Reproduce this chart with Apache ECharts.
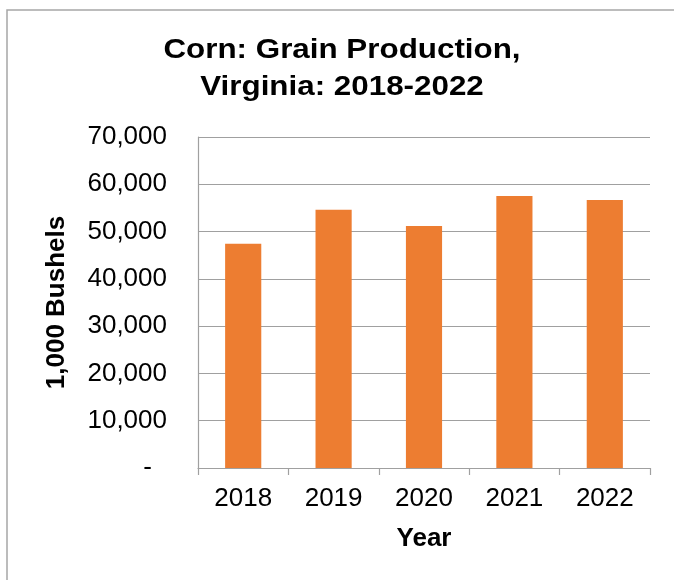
<!DOCTYPE html>
<html>
<head>
<meta charset="utf-8">
<script src="https://cdn.jsdelivr.net/npm/echarts@6/dist/echarts.min.js"></script>
<style>
  html, body { margin: 0; padding: 0; background: #fff; }
  #chart_con { width: 674px; height: 580px; }
</style>
</head>
<body>
<div id="chart_con"></div>
<script>
    // values (1,000 bushels)
    var years = ['2018', '2019', '2020', '2021', '2022'];
    var production = [47400, 54600, 51200, 57500, 56700];
    var yTicks = [0, 10000, 20000, 30000, 40000, 50000, 60000, 70000];
    var titleLines = ['Corn: Grain Production,', 'Virginia: 2018-2022'];

    var font = '"Liberation Sans", Arial, sans-serif';

    function titleLine(text, y) {
        // the title face runs a bit wider than Arial, stretch it
        return {
            type: 'text',
            x: 342,
            y: y,
            scaleX: 1.12,
            style: {
                text: text,
                font: 'bold 28px "Liberation Sans", Arial, sans-serif',
                fill: '#000',
                align: 'center',
                verticalAlign: 'middle'
            }
        };
    }

    var chart = echarts.init(document.getElementById('chart_con'));
    chart.setOption({
        backgroundColor: '#fff',
        animation: false,
        graphic: [
            {
                // frame, only top and left edge show inside the window
                type: 'rect',
                shape: {x: 7, y: 10, width: 720, height: 620},
                style: {fill: 'none', stroke: '#a6a6a6', lineWidth: 1.5},
                silent: true
            },
            titleLine(titleLines[0], 50),
            titleLine(titleLines[1], 87)
        ],
        grid: {
            left: 198,
            right: 24,
            top: 137,
            bottom: 112,
            containLabel: false
        },
        xAxis: {
            type: 'category',
            data: years,
            name: 'Year',
            nameLocation: 'middle',
            nameGap: 58,
            nameTextStyle: {fontFamily: font, fontWeight: 'bold', fontSize: 26, color: '#000'},
            axisLine: {show: true, lineStyle: {color: '#a0a0a0', width: 1.2}},
            axisTick: {show: true, alignWithLabel: false, length: 7, lineStyle: {color: '#a0a0a0', width: 1.2}},
            axisLabel: {fontFamily: font, fontSize: 26, color: '#000', margin: 18}
        },
        yAxis: {
            type: 'value',
            min: yTicks[0],
            max: yTicks[yTicks.length - 1],
            interval: 10000,
            name: '1,000 Bushels',
            nameLocation: 'middle',
            nameRotate: 90,
            nameGap: 128,
            nameTextStyle: {fontFamily: font, fontWeight: 'bold', fontSize: 26, color: '#000'},
            axisLine: {show: true, lineStyle: {color: '#a0a0a0', width: 1.2}},
            axisTick: {show: false},
            splitLine: {show: true, lineStyle: {color: '#a0a0a0', width: 1.2}},
            axisLabel: {
                fontFamily: font,
                fontSize: 26,
                color: '#000',
                margin: 31,
                formatter: function (v) {
                    if (v === 0) return '{d|-}';
                    return v.toLocaleString('en-US');
                },
                rich: {
                    d: {fontFamily: font, fontSize: 26, color: '#000', padding: [0, 15, 0, 0]}
                }
            }
        },
        series: [
            {
                name: 'Production',
                type: 'bar',
                data: production,
                barWidth: '40%',
                itemStyle: {color: '#ED7D31'}
            }
        ]
    });
</script>
</body>
</html>
